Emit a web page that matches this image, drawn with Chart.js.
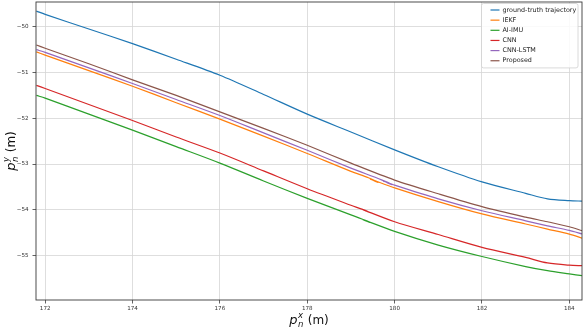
<!DOCTYPE html>
<html>
<head>
<meta charset="utf-8">
<script src="https://cdn.jsdelivr.net/npm/chart.js@4"></script>
<style>
  html, body { margin: 0; padding: 0; background: #fff; }
</style>
</head>
<body>
<canvas id="trajChart" width="586" height="330"></canvas>
<script>
// positions along p_n^x (m)
const xGrid = [171.8, 172, 173, 174, 175, 176, 177, 178, 179, 180, 181, 182, 183, 183.5, 184, 184.3];

// p_n^y (m) for each method
const groundTruth = [-49.66, -49.73, -50.05, -50.37, -50.71, -51.06, -51.48, -51.91, -52.30, -52.69, -53.06, -53.39, -53.64, -53.76, -53.80, -53.81];
const iekf        = [-50.55, -50.62, -50.96, -51.30, -51.66, -52.02, -52.39, -52.77, -53.16, -53.52, -53.82, -54.09, -54.31, -54.42, -54.53, -54.62];
const aiImu       = [-51.50, -51.56, -51.91, -52.26, -52.62, -52.98, -53.37, -53.75, -54.11, -54.47, -54.77, -55.02, -55.24, -55.33, -55.40, -55.44];
const cnn         = [-51.28, -51.35, -51.70, -52.05, -52.41, -52.76, -53.15, -53.54, -53.90, -54.26, -54.54, -54.82, -55.04, -55.16, -55.21, -55.22];
const cnnLstm     = [-50.50, -50.56, -50.90, -51.24, -51.59, -51.94, -52.32, -52.70, -53.09, -53.46, -53.76, -54.02, -54.24, -54.35, -54.45, -54.53];
const proposed    = [-50.40, -50.47, -50.81, -51.16, -51.50, -51.86, -52.22, -52.59, -52.98, -53.35, -53.65, -53.93, -54.16, -54.26, -54.37, -54.46];

// small back-and-forth wiggles near x = 179.5
const iekfLoopX = [179.40, 179.62, 179.45];
const iekfLoopY = [-53.30, -53.40, -53.33];
const lstmLoopX = [179.70, 179.94, 179.74];
const lstmLoopY = [-53.345, -53.45, -53.37];
const cnnLoopX  = [179.25, 179.40, 179.27];
const cnnLoopY  = [-53.985, -54.045, -53.995];
const aiLoopX   = [179.25, 179.43, 179.28];
const aiLoopY   = [-54.20, -54.275, -54.215];

const xTicks = [172, 174, 176, 178, 180, 182, 184];
const yTicks = [-55, -54, -53, -52, -51, -50];

function buildPoints(ys, loopX, loopY) {
  const pts = [];
  xGrid.forEach((x, i) => {
    pts.push({ x: x, y: ys[i] });
    if (loopX && xGrid[i + 1] > loopX[0] && x <= loopX[0]) {
      loopX.forEach((lx, j) => pts.push({ x: lx, y: loopY[j] }));
    }
  });
  return pts;
}

function series(label, color, ys, order, loopX, loopY) {
  return {
    label: label,
    data: buildPoints(ys, loopX, loopY),
    borderColor: color,
    backgroundColor: color,
    borderWidth: 1.2,
    pointRadius: 0,
    showLine: true,
    tension: 0.3,
    order: order
  };
}

const FONT = "'DejaVu Sans', sans-serif";
const minus = v => String(v).replace('-', '\u2212');

// draws p_n^{sup} (m) with stacked sub/superscript
function mathTitle(ctx, cx, cy, sup, rotate) {
  ctx.save();
  ctx.translate(cx, cy);
  if (rotate) ctx.rotate(-Math.PI / 2);
  ctx.fillStyle = '#111';
  ctx.textBaseline = 'alphabetic';
  ctx.textAlign = 'left';
  const big = 'italic 13px ' + FONT, small = 'italic 8.5px ' + FONT, reg = '12px ' + FONT;
  ctx.font = big; const wp = ctx.measureText('p').width;
  ctx.font = small; const ws = Math.max(ctx.measureText(sup).width, ctx.measureText('n').width);
  ctx.font = reg; const wm = ctx.measureText(' (m)').width;
  const total = wp + ws + 1 + wm;
  let x = -total / 2;
  const base = 3.5;
  ctx.font = big; ctx.fillText('p', x, base);
  ctx.font = small;
  ctx.fillText(sup, x + wp + 0.5, base - 6);
  ctx.fillText('n', x + wp + 0.5, base + 3);
  ctx.font = reg; ctx.fillText(' (m)', x + wp + ws + 1, base);
  ctx.restore();
}

const framePlugin = {
  id: 'frame',
  afterDatasetsDraw(chart) {
    const ctx = chart.ctx, a = chart.chartArea;
    ctx.save();
    ctx.strokeStyle = '#3a3a3a';
    ctx.lineWidth = 0.9;
    ctx.strokeRect(a.left, a.top, a.right - a.left, a.bottom - a.top);
    ctx.restore();
  },
  afterDraw(chart) {
    const ctx = chart.ctx, a = chart.chartArea;
    // legend
    const sets = chart.data.datasets;
    const rowH = 10.15;
    const right = a.right - 4, top = a.top + 1.5, w = 96.5;
    const h = sets.length * rowH + 3.5;
    const left = right - w;
    ctx.save();
    ctx.fillStyle = 'rgba(255,255,255,0.85)';
    ctx.strokeStyle = '#d0d0d0';
    ctx.lineWidth = 0.8;
    ctx.beginPath();
    ctx.roundRect(left, top, w, h, 2);
    ctx.fill();
    ctx.stroke();
    ctx.font = '6.4px ' + FONT;
    ctx.textBaseline = 'middle';
    ctx.textAlign = 'left';
    sets.forEach((ds, i) => {
      const y = top + 6.5 + i * rowH;
      ctx.strokeStyle = ds.borderColor;
      ctx.lineWidth = 1.2;
      ctx.beginPath();
      ctx.moveTo(left + 9, y);
      ctx.lineTo(left + 18, y);
      ctx.stroke();
      ctx.fillStyle = '#222';
      ctx.fillText(ds.label, left + 21, y);
    });
    ctx.restore();
    // axis titles
    mathTitle(ctx, (a.left + a.right) / 2, 320, 'x', false);
    mathTitle(ctx, 11, (a.top + a.bottom) / 2, 'y', true);
  }
};

const ctx = document.getElementById('trajChart').getContext('2d');
new Chart(ctx, {
  type: 'scatter',
  data: {
    datasets: [
      series('ground-truth trajectory', '#1f77b4', groundTruth, 6),
      series('IEKF', '#ff7f0e', iekf, 5, iekfLoopX, iekfLoopY),
      series('AI-IMU', '#2ca02c', aiImu, 4, aiLoopX, aiLoopY),
      series('CNN', '#d62728', cnn, 3, cnnLoopX, cnnLoopY),
      series('CNN-LSTM', '#9467bd', cnnLstm, 2, lstmLoopX, lstmLoopY),
      series('Proposed', '#8c564b', proposed, 1)
    ]
  },
  options: {
    responsive: false,
    animation: false,
    devicePixelRatio: 1,
    layout: { padding: { top: 2, right: 4, left: 0, bottom: 0 } },
    plugins: {
      legend: { display: false },
      tooltip: { enabled: false }
    },
    scales: {
      x: {
        type: 'linear',
        min: 171.79,
        max: 184.29,
        afterBuildTicks: s => { s.ticks = xTicks.map(v => ({ value: v })); },
        afterFit: s => { s.height = 30; s.paddingLeft = 0; s.paddingRight = 0; },
        ticks: { font: { family: FONT, size: 5.6 }, color: '#333', padding: 2, maxRotation: 0, callback: minus },
        grid: { color: '#d6d6d6', lineWidth: 0.8, tickColor: '#3a3a3a', tickLength: 3.5 },
        border: { display: false }
      },
      y: {
        type: 'linear',
        min: -55.97,
        max: -49.46,
        afterBuildTicks: s => { s.ticks = yTicks.map(v => ({ value: v })); },
        afterFit: s => { s.width = 36; s.paddingTop = 0; s.paddingBottom = 0; },
        ticks: { font: { family: FONT, size: 5.6 }, color: '#333', padding: 4, callback: minus },
        grid: { color: '#d6d6d6', lineWidth: 0.8, tickColor: '#3a3a3a', tickLength: 3.5 },
        border: { display: false }
      }
    }
  },
  plugins: [framePlugin]
});
</script>
</body>
</html>
